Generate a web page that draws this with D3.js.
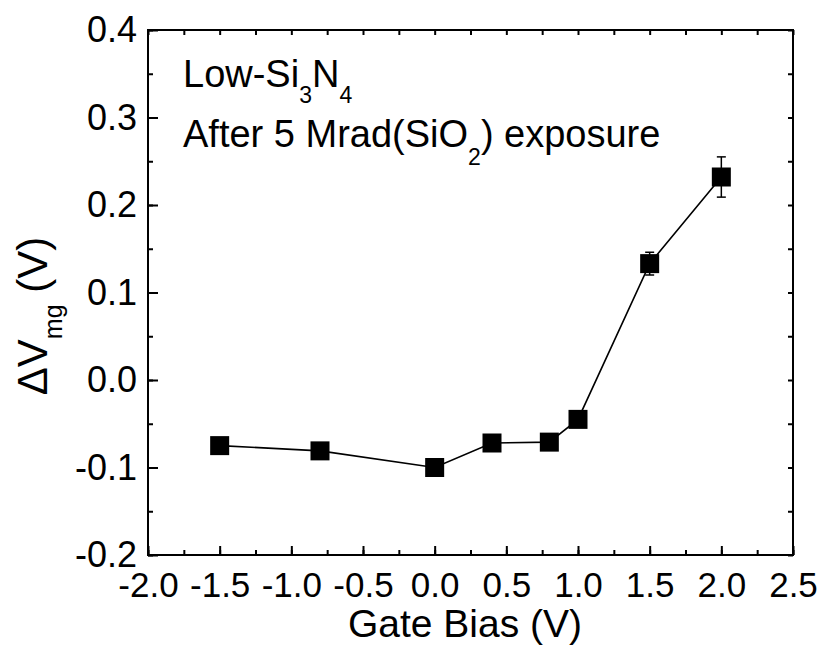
<!DOCTYPE html>
<html>
<head>
<meta charset="utf-8">
<script src="https://cdn.jsdelivr.net/npm/d3@7"></script>
<style>
  body { margin: 0; background: #fff; }
  text { font-family: "Liberation Sans", Arial, sans-serif; fill: #000; }
</style>
</head>
<body>
<script>
// data
var gateBias = [-1.5, -0.8, 0.0, 0.4, 0.8, 1.0, 1.5, 2.0];
var deltaVmg = [-0.075, -0.081, -0.100, -0.072, -0.071, -0.045, 0.133, 0.232];
var errBar = [0, 0, 0, 0, 0, 0, 0.013, 0.023];

var xTicks = [-2.0, -1.5, -1.0, -0.5, 0.0, 0.5, 1.0, 1.5, 2.0, 2.5];
var yTicks = [-0.2, -0.1, 0.0, 0.1, 0.2, 0.3, 0.4];

var width = 822, height = 657;
var pL = 148, pR = 793, pT = 30, pB = 555; // plot frame

var svg = d3.select("body").append("svg")
    .attr("width", width)
    .attr("height", height);

var x = d3.scaleLinear().domain([-2.0, 2.5]).range([pL, pR]);
var y = d3.scaleLinear().domain([-0.2, 0.4]).range([pB, pT]);

var fmt = function(d){ return d.toFixed(1); };

// minor tick positions
var xMinor = d3.range(-2.0, 2.5001, 0.25);
var yMinor = d3.range(-0.2, 0.4001, 0.05);

function plain(g){
    g.select(".domain").remove();
    g.selectAll("line").attr("stroke-width", 2);
}

// bottom axis: labels + major ticks
var gx = svg.append("g")
    .attr("transform", "translate(0," + pB + ")")
    .call(d3.axisBottom(x).tickValues(xTicks).tickFormat(fmt).tickSize(-9).tickPadding(17))
    .call(plain);
gx.selectAll("text").attr("font-size", 35);

// bottom minor ticks
svg.append("g")
    .attr("transform", "translate(0," + pB + ")")
    .call(d3.axisBottom(x).tickValues(xMinor).tickFormat("").tickSize(-5))
    .call(plain);

// top ticks (all short)
svg.append("g")
    .attr("transform", "translate(0," + pT + ")")
    .call(d3.axisTop(x).tickValues(xMinor).tickFormat("").tickSize(-5))
    .call(plain);

// left axis
var gy = svg.append("g")
    .attr("transform", "translate(" + pL + ",0)")
    .call(d3.axisLeft(y).tickValues(yTicks).tickFormat(fmt).tickSize(-10).tickPadding(11))
    .call(plain);
gy.selectAll("text").attr("font-size", 36);

svg.append("g")
    .attr("transform", "translate(" + pL + ",0)")
    .call(d3.axisLeft(y).tickValues(yMinor).tickFormat("").tickSize(-5))
    .call(plain);

// right ticks (all short)
svg.append("g")
    .attr("transform", "translate(" + pR + ",0)")
    .call(d3.axisRight(y).tickValues(yMinor).tickFormat("").tickSize(-5))
    .call(plain);

// frame
svg.append("rect")
    .attr("x", pL).attr("y", pT)
    .attr("width", pR - pL).attr("height", pB - pT)
    .attr("fill", "none").attr("stroke", "#000").attr("stroke-width", 2);

var pts = gateBias.map(function(d, i){ return {x: d, y: deltaVmg[i], e: errBar[i]}; });

// connecting line
var line = d3.line().x(function(d){ return x(d.x); }).y(function(d){ return y(d.y); });
svg.append("path")
    .datum(pts)
    .attr("d", line)
    .attr("fill", "none")
    .attr("stroke", "#000")
    .attr("stroke-width", 1.6);

// error bars
var eb = svg.append("g").selectAll("g")
    .data(pts.filter(function(d){ return d.e > 0; }))
    .enter().append("g")
    .attr("stroke", "#000").attr("stroke-width", 1.5);
eb.append("line")
    .attr("x1", function(d){ return x(d.x); }).attr("x2", function(d){ return x(d.x); })
    .attr("y1", function(d){ return y(d.y + d.e); }).attr("y2", function(d){ return y(d.y - d.e); });
eb.append("line")
    .attr("x1", function(d){ return x(d.x) - 4.5; }).attr("x2", function(d){ return x(d.x) + 4.5; })
    .attr("y1", function(d){ return y(d.y + d.e); }).attr("y2", function(d){ return y(d.y + d.e); });
eb.append("line")
    .attr("x1", function(d){ return x(d.x) - 4.5; }).attr("x2", function(d){ return x(d.x) + 4.5; })
    .attr("y1", function(d){ return y(d.y - d.e); }).attr("y2", function(d){ return y(d.y - d.e); });

// square markers
var sq = 19;
svg.append("g").selectAll("rect")
    .data(pts)
    .enter().append("rect")
    .attr("x", function(d){ return x(d.x) - sq / 2; })
    .attr("y", function(d){ return y(d.y) - sq / 2; })
    .attr("width", sq).attr("height", sq)
    .attr("fill", "#000");

// x title
svg.append("text")
    .attr("x", 465).attr("y", 637)
    .attr("text-anchor", "middle")
    .attr("font-size", 39)
    .text("Gate Bias (V)");

// y title
var yt = svg.append("text")
    .attr("transform", "translate(47,316) rotate(-90)")
    .attr("text-anchor", "middle")
    .attr("font-size", 42);
yt.append("tspan").text("\u0394V");
yt.append("tspan").attr("font-size", 25).attr("dy", 15).text("mg");
yt.append("tspan").attr("dy", -15).text(" (V)");

// annotation
var t1 = svg.append("text").attr("x", 183).attr("y", 87).attr("font-size", 38);
t1.append("tspan").text("Low-Si");
t1.append("tspan").attr("font-size", 23).attr("dy", 16).text("3");
t1.append("tspan").attr("dy", -16).text("N");
t1.append("tspan").attr("font-size", 23).attr("dy", 16).text("4");

var t2 = svg.append("text").attr("x", 183).attr("y", 147).attr("font-size", 38);
t2.append("tspan").text("After 5 Mrad(SiO");
t2.append("tspan").attr("font-size", 23).attr("dy", 18).text("2");
t2.append("tspan").attr("dy", -18).text(") exposure");
</script>
</body>
</html>
